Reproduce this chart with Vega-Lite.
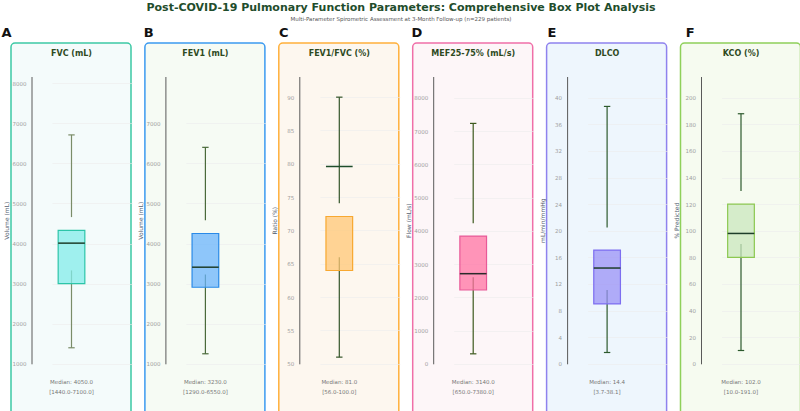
{
  "$schema": "https://vega.github.io/schema/vega-lite/v6.json",
  "padding": {"left": 0, "top": 1, "right": 0, "bottom": 0},
  "background": "white",
  "title": {
    "text": "Post-COVID-19 Pulmonary Function Parameters: Comprehensive Box Plot Analysis",
    "subtitle": "Multi-Parameter Spirometric Assessment at 3-Month Follow-up (n=229 patients)",
    "font": "DejaVu Sans", "fontSize": 11, "fontWeight": "bold", "color": "#1f4d2c",
    "subtitleFont": "DejaVu Sans", "subtitleFontSize": 5.5, "subtitleColor": "#555555",
    "subtitlePadding": 4.5, "offset": 3, "anchor": "middle"
  },
  "data": {"values": [
    {"panel": "A", "letter": "A", "title": "FVC (mL)", "q1": 3000, "q3": 4330, "med": 4010, "lowcap": 1400, "lowend": 3330, "upstart": 4660, "upcap": 6710, "medlabel": "Median: 4050.0", "rangelabel": "[1440.0-7100.0]"},
    {"panel": "B", "letter": "B", "title": "FEV1 (mL)", "q1": 2910, "q3": 4250, "med": 3410, "lowcap": 1250, "lowend": 3230, "upstart": 4580, "upcap": 6400, "medlabel": "Median: 3230.0", "rangelabel": "[1290.0-6550.0]"},
    {"panel": "C", "letter": "C", "title": "FEV1/FVC (%)", "q1": 64.0, "q3": 72.1, "med": 79.6, "lowcap": 51.0, "lowend": 66.0, "upstart": 74.1, "upcap": 90.0, "medlabel": "Median: 81.0", "rangelabel": "[56.0-100.0]"},
    {"panel": "D", "letter": "D", "title": "MEF25-75% (mL/s)", "q1": 2220, "q3": 3840, "med": 2710, "lowcap": 300, "lowend": 2600, "upstart": 4230, "upcap": 7230, "medlabel": "Median: 3140.0", "rangelabel": "[650.0-7380.0]"},
    {"panel": "E", "letter": "E", "title": "DLCO", "q1": 9.0, "q3": 17.1, "med": 14.4, "lowcap": 1.7, "lowend": 11.1, "upstart": 20.5, "upcap": 38.7, "medlabel": "Median: 14.4", "rangelabel": "[3.7-38.1]"},
    {"panel": "F", "letter": "F", "title": "KCO (%)", "q1": 80, "q3": 120, "med": 98, "lowcap": 10, "lowend": 90, "upstart": 130, "upcap": 188, "medlabel": "Median: 102.0", "rangelabel": "[10.0-191.0]"}
  ]},
  "spacing": 13.9,
  "bounds": "flush",
  "hconcat": [
    {
      "width": 120, "height": 378,
      "view": {"fill": "#f4fbfb", "stroke": "#3cc9a5", "strokeWidth": 1.5, "cornerRadius": 4},
      "transform": [{"filter": "datum.panel === 'A'"}],
      "resolve": {"scale": {"y": "independent"}},
      "layer": [
        {"layer": [
          {"mark": {"type": "rule", "color": "#7a8c68", "strokeWidth": 1.2},
           "encoding": {
             "x": {"datum": 0.5, "type": "quantitative", "scale": {"domain": [0, 1], "range": [20.5, 100.5], "nice": false, "zero": false}, "axis": null},
             "y": {"field": "lowcap", "type": "quantitative", "scale": {"domain": [1000, 8167], "range": [320.8, 33.5], "nice": false, "zero": false},
                   "axis": {"orient": "left", "values": [1000, 2000, 3000, 4000, 5000, 6000, 7000, 8000], "title": "Volume (mL)"}},
             "y2": {"field": "lowend"}}},
          {"mark": {"type": "rule", "color": "#7a8c68", "strokeWidth": 1.2},
           "encoding": {"x": {"datum": 0.5, "type": "quantitative"}, "y": {"field": "upstart", "type": "quantitative"}, "y2": {"field": "upcap"}}},
          {"mark": {"type": "rule", "color": "#7a8c68", "strokeWidth": 1.2},
           "encoding": {"x": {"datum": 0.46, "type": "quantitative"}, "x2": {"datum": 0.54}, "y": {"field": "lowcap", "type": "quantitative"}}},
          {"mark": {"type": "rule", "color": "#7a8c68", "strokeWidth": 1.2},
           "encoding": {"x": {"datum": 0.46, "type": "quantitative"}, "x2": {"datum": 0.54}, "y": {"field": "upcap", "type": "quantitative"}}},
          {"mark": {"type": "rect", "fill": "#83ecea", "fillOpacity": 0.75, "stroke": "#2cc5a8", "strokeWidth": 1.2},
           "encoding": {"x": {"datum": 0.3333, "type": "quantitative"}, "x2": {"datum": 0.6667}, "y": {"field": "q1", "type": "quantitative"}, "y2": {"field": "q3"}}},
          {"mark": {"type": "rule", "color": "#1e3d2a", "strokeWidth": 1.5},
           "encoding": {"x": {"datum": 0.3333, "type": "quantitative"}, "x2": {"datum": 0.6667}, "y": {"field": "med", "type": "quantitative"}}}
        ]},
        {"layer": [
          {"mark": {"type": "text", "font": "DejaVu Sans", "fontSize": 13, "fontWeight": "bold", "align": "left", "baseline": "alphabetic", "color": "#111111"},
           "encoding": {"x": {"datum": -0.375, "type": "quantitative"}, "y": {"datum": 1.1392, "type": "quantitative", "scale": {"domain": [0, 1], "range": [320.8, 33.5], "nice": false, "zero": false}, "axis": null}, "text": {"field": "letter"}}},
          {"mark": {"type": "text", "font": "DejaVu Sans", "fontSize": 8, "fontWeight": "bold", "align": "center", "baseline": "middle", "color": "#2e4a1e"},
           "encoding": {"x": {"datum": 0.5, "type": "quantitative"}, "y": {"datum": 1.0766, "type": "quantitative"}, "text": {"field": "title"}}},
          {"mark": {"type": "text", "font": "DejaVu Sans", "fontSize": 5.5, "align": "center", "baseline": "middle", "color": "#777777"},
           "encoding": {"x": {"datum": 0.5, "type": "quantitative"}, "y": {"datum": -0.064, "type": "quantitative"}, "text": {"field": "medlabel"}}},
          {"mark": {"type": "text", "font": "DejaVu Sans", "fontSize": 5.5, "align": "center", "baseline": "middle", "color": "#777777"},
           "encoding": {"x": {"datum": 0.5, "type": "quantitative"}, "y": {"datum": -0.0988, "type": "quantitative"}, "text": {"field": "rangelabel"}}}
        ]}
      ]
    },
    {
      "width": 120, "height": 378,
      "view": {"fill": "#f6fbf4", "stroke": "#3b9af0", "strokeWidth": 1.5, "cornerRadius": 4},
      "transform": [{"filter": "datum.panel === 'B'"}],
      "resolve": {"scale": {"y": "independent"}},
      "layer": [
        {"layer": [
          {"mark": {"type": "rule", "color": "#4a6a3a", "strokeWidth": 1.2},
           "encoding": {
             "x": {"datum": 0.5, "type": "quantitative", "scale": {"domain": [0, 1], "range": [20.5, 100.5], "nice": false, "zero": false}, "axis": null},
             "y": {"field": "lowcap", "type": "quantitative", "scale": {"domain": [1000, 8167], "range": [320.8, 33.5], "nice": false, "zero": false},
                   "axis": {"orient": "left", "values": [1000, 2000, 3000, 4000, 5000, 6000, 7000], "title": "Volume (mL)"}},
             "y2": {"field": "lowend"}}},
          {"mark": {"type": "rule", "color": "#4a6a3a", "strokeWidth": 1.2},
           "encoding": {"x": {"datum": 0.5, "type": "quantitative"}, "y": {"field": "upstart", "type": "quantitative"}, "y2": {"field": "upcap"}}},
          {"mark": {"type": "rule", "color": "#4a6a3a", "strokeWidth": 1.2},
           "encoding": {"x": {"datum": 0.46, "type": "quantitative"}, "x2": {"datum": 0.54}, "y": {"field": "lowcap", "type": "quantitative"}}},
          {"mark": {"type": "rule", "color": "#4a6a3a", "strokeWidth": 1.2},
           "encoding": {"x": {"datum": 0.46, "type": "quantitative"}, "x2": {"datum": 0.54}, "y": {"field": "upcap", "type": "quantitative"}}},
          {"mark": {"type": "rect", "fill": "#6bb4fc", "fillOpacity": 0.75, "stroke": "#2a8ae8", "strokeWidth": 1.2},
           "encoding": {"x": {"datum": 0.3333, "type": "quantitative"}, "x2": {"datum": 0.6667}, "y": {"field": "q1", "type": "quantitative"}, "y2": {"field": "q3"}}},
          {"mark": {"type": "rule", "color": "#1e3d2a", "strokeWidth": 1.5},
           "encoding": {"x": {"datum": 0.3333, "type": "quantitative"}, "x2": {"datum": 0.6667}, "y": {"field": "med", "type": "quantitative"}}}
        ]},
        {"layer": [
          {"mark": {"type": "text", "font": "DejaVu Sans", "fontSize": 13, "fontWeight": "bold", "align": "left", "baseline": "alphabetic", "color": "#111111"},
           "encoding": {"x": {"datum": -0.27, "type": "quantitative"}, "y": {"datum": 1.1392, "type": "quantitative", "scale": {"domain": [0, 1], "range": [320.8, 33.5], "nice": false, "zero": false}, "axis": null}, "text": {"field": "letter"}}},
          {"mark": {"type": "text", "font": "DejaVu Sans", "fontSize": 8, "fontWeight": "bold", "align": "center", "baseline": "middle", "color": "#2e4a1e"},
           "encoding": {"x": {"datum": 0.5, "type": "quantitative"}, "y": {"datum": 1.0766, "type": "quantitative"}, "text": {"field": "title"}}},
          {"mark": {"type": "text", "font": "DejaVu Sans", "fontSize": 5.5, "align": "center", "baseline": "middle", "color": "#777777"},
           "encoding": {"x": {"datum": 0.5, "type": "quantitative"}, "y": {"datum": -0.064, "type": "quantitative"}, "text": {"field": "medlabel"}}},
          {"mark": {"type": "text", "font": "DejaVu Sans", "fontSize": 5.5, "align": "center", "baseline": "middle", "color": "#777777"},
           "encoding": {"x": {"datum": 0.5, "type": "quantitative"}, "y": {"datum": -0.0988, "type": "quantitative"}, "text": {"field": "rangelabel"}}}
        ]}
      ]
    },
    {
      "width": 120, "height": 378,
      "view": {"fill": "#fdf7ef", "stroke": "#ffb03b", "strokeWidth": 1.5, "cornerRadius": 4},
      "transform": [{"filter": "datum.panel === 'C'"}],
      "resolve": {"scale": {"y": "independent"}},
      "layer": [
        {"layer": [
          {"mark": {"type": "rule", "color": "#34552a", "strokeWidth": 1.2},
           "encoding": {
             "x": {"datum": 0.5, "type": "quantitative", "scale": {"domain": [0, 1], "range": [20.5, 100.5], "nice": false, "zero": false}, "axis": null},
             "y": {"field": "lowcap", "type": "quantitative", "scale": {"domain": [50, 93.1], "range": [320.8, 33.5], "nice": false, "zero": false},
                   "axis": {"orient": "left", "values": [50, 55, 60, 65, 70, 75, 80, 85, 90], "title": "Ratio (%)"}},
             "y2": {"field": "lowend"}}},
          {"mark": {"type": "rule", "color": "#34552a", "strokeWidth": 1.2},
           "encoding": {"x": {"datum": 0.5, "type": "quantitative"}, "y": {"field": "upstart", "type": "quantitative"}, "y2": {"field": "upcap"}}},
          {"mark": {"type": "rule", "color": "#34552a", "strokeWidth": 1.2},
           "encoding": {"x": {"datum": 0.46, "type": "quantitative"}, "x2": {"datum": 0.54}, "y": {"field": "lowcap", "type": "quantitative"}}},
          {"mark": {"type": "rule", "color": "#34552a", "strokeWidth": 1.2},
           "encoding": {"x": {"datum": 0.46, "type": "quantitative"}, "x2": {"datum": 0.54}, "y": {"field": "upcap", "type": "quantitative"}}},
          {"mark": {"type": "rect", "fill": "#ffc776", "fillOpacity": 0.75, "stroke": "#f8a830", "strokeWidth": 1.2},
           "encoding": {"x": {"datum": 0.3333, "type": "quantitative"}, "x2": {"datum": 0.6667}, "y": {"field": "q1", "type": "quantitative"}, "y2": {"field": "q3"}}},
          {"mark": {"type": "rule", "color": "#1e4d2b", "strokeWidth": 1.5},
           "encoding": {"x": {"datum": 0.3333, "type": "quantitative"}, "x2": {"datum": 0.6667}, "y": {"field": "med", "type": "quantitative"}}}
        ]},
        {"layer": [
          {"mark": {"type": "text", "font": "DejaVu Sans", "fontSize": 13, "fontWeight": "bold", "align": "left", "baseline": "alphabetic", "color": "#111111"},
           "encoding": {"x": {"datum": -0.254, "type": "quantitative"}, "y": {"datum": 1.1392, "type": "quantitative", "scale": {"domain": [0, 1], "range": [320.8, 33.5], "nice": false, "zero": false}, "axis": null}, "text": {"field": "letter"}}},
          {"mark": {"type": "text", "font": "DejaVu Sans", "fontSize": 8, "fontWeight": "bold", "align": "center", "baseline": "middle", "color": "#2e4a1e"},
           "encoding": {"x": {"datum": 0.5, "type": "quantitative"}, "y": {"datum": 1.0766, "type": "quantitative"}, "text": {"field": "title"}}},
          {"mark": {"type": "text", "font": "DejaVu Sans", "fontSize": 5.5, "align": "center", "baseline": "middle", "color": "#777777"},
           "encoding": {"x": {"datum": 0.5, "type": "quantitative"}, "y": {"datum": -0.064, "type": "quantitative"}, "text": {"field": "medlabel"}}},
          {"mark": {"type": "text", "font": "DejaVu Sans", "fontSize": 5.5, "align": "center", "baseline": "middle", "color": "#777777"},
           "encoding": {"x": {"datum": 0.5, "type": "quantitative"}, "y": {"datum": -0.0988, "type": "quantitative"}, "text": {"field": "rangelabel"}}}
        ]}
      ]
    },
    {
      "width": 120, "height": 378,
      "view": {"fill": "#fdf6f8", "stroke": "#f06fa8", "strokeWidth": 1.5, "cornerRadius": 4},
      "transform": [{"filter": "datum.panel === 'D'"}],
      "resolve": {"scale": {"y": "independent"}},
      "layer": [
        {"layer": [
          {"mark": {"type": "rule", "color": "#3d5a1e", "strokeWidth": 1.2},
           "encoding": {
             "x": {"datum": 0.5, "type": "quantitative", "scale": {"domain": [0, 1], "range": [20.5, 100.5], "nice": false, "zero": false}, "axis": null},
             "y": {"field": "lowcap", "type": "quantitative", "scale": {"domain": [0, 8640], "range": [320.8, 33.5], "nice": false, "zero": false},
                   "axis": {"orient": "left", "values": [0, 1000, 2000, 3000, 4000, 5000, 6000, 7000, 8000], "title": "Flow (mL/s)"}},
             "y2": {"field": "lowend"}}},
          {"mark": {"type": "rule", "color": "#3d5a1e", "strokeWidth": 1.2},
           "encoding": {"x": {"datum": 0.5, "type": "quantitative"}, "y": {"field": "upstart", "type": "quantitative"}, "y2": {"field": "upcap"}}},
          {"mark": {"type": "rule", "color": "#3d5a1e", "strokeWidth": 1.2},
           "encoding": {"x": {"datum": 0.46, "type": "quantitative"}, "x2": {"datum": 0.54}, "y": {"field": "lowcap", "type": "quantitative"}}},
          {"mark": {"type": "rule", "color": "#3d5a1e", "strokeWidth": 1.2},
           "encoding": {"x": {"datum": 0.46, "type": "quantitative"}, "x2": {"datum": 0.54}, "y": {"field": "upcap", "type": "quantitative"}}},
          {"mark": {"type": "rect", "fill": "#ff73a3", "fillOpacity": 0.75, "stroke": "#e85a98", "strokeWidth": 1.2},
           "encoding": {"x": {"datum": 0.3333, "type": "quantitative"}, "x2": {"datum": 0.6667}, "y": {"field": "q1", "type": "quantitative"}, "y2": {"field": "q3"}}},
          {"mark": {"type": "rule", "color": "#2a2a2a", "strokeWidth": 1.5},
           "encoding": {"x": {"datum": 0.3333, "type": "quantitative"}, "x2": {"datum": 0.6667}, "y": {"field": "med", "type": "quantitative"}}}
        ]},
        {"layer": [
          {"mark": {"type": "text", "font": "DejaVu Sans", "fontSize": 13, "fontWeight": "bold", "align": "left", "baseline": "alphabetic", "color": "#111111"},
           "encoding": {"x": {"datum": -0.271, "type": "quantitative"}, "y": {"datum": 1.1392, "type": "quantitative", "scale": {"domain": [0, 1], "range": [320.8, 33.5], "nice": false, "zero": false}, "axis": null}, "text": {"field": "letter"}}},
          {"mark": {"type": "text", "font": "DejaVu Sans", "fontSize": 8, "fontWeight": "bold", "align": "center", "baseline": "middle", "color": "#2e4a1e"},
           "encoding": {"x": {"datum": 0.5, "type": "quantitative"}, "y": {"datum": 1.0766, "type": "quantitative"}, "text": {"field": "title"}}},
          {"mark": {"type": "text", "font": "DejaVu Sans", "fontSize": 5.5, "align": "center", "baseline": "middle", "color": "#777777"},
           "encoding": {"x": {"datum": 0.5, "type": "quantitative"}, "y": {"datum": -0.064, "type": "quantitative"}, "text": {"field": "medlabel"}}},
          {"mark": {"type": "text", "font": "DejaVu Sans", "fontSize": 5.5, "align": "center", "baseline": "middle", "color": "#777777"},
           "encoding": {"x": {"datum": 0.5, "type": "quantitative"}, "y": {"datum": -0.0988, "type": "quantitative"}, "text": {"field": "rangelabel"}}}
        ]}
      ]
    },
    {
      "width": 120, "height": 378,
      "view": {"fill": "#eef6fd", "stroke": "#8f82ee", "strokeWidth": 1.5, "cornerRadius": 4},
      "transform": [{"filter": "datum.panel === 'E'"}],
      "resolve": {"scale": {"y": "independent"}},
      "layer": [
        {"layer": [
          {"mark": {"type": "rule", "color": "#2d5a2d", "strokeWidth": 1.2},
           "encoding": {
             "x": {"datum": 0.5, "type": "quantitative", "scale": {"domain": [0, 1], "range": [20.5, 100.5], "nice": false, "zero": false}, "axis": null},
             "y": {"field": "lowcap", "type": "quantitative", "scale": {"domain": [0, 43.2], "range": [320.8, 33.5], "nice": false, "zero": false},
                   "axis": {"orient": "left", "values": [0, 4, 8, 12, 16, 20, 24, 28, 32, 36, 40], "title": "mL/min/mmHg"}},
             "y2": {"field": "lowend"}}},
          {"mark": {"type": "rule", "color": "#2d5a2d", "strokeWidth": 1.2},
           "encoding": {"x": {"datum": 0.5, "type": "quantitative"}, "y": {"field": "upstart", "type": "quantitative"}, "y2": {"field": "upcap"}}},
          {"mark": {"type": "rule", "color": "#2d5a2d", "strokeWidth": 1.2},
           "encoding": {"x": {"datum": 0.46, "type": "quantitative"}, "x2": {"datum": 0.54}, "y": {"field": "lowcap", "type": "quantitative"}}},
          {"mark": {"type": "rule", "color": "#2d5a2d", "strokeWidth": 1.2},
           "encoding": {"x": {"datum": 0.46, "type": "quantitative"}, "x2": {"datum": 0.54}, "y": {"field": "upcap", "type": "quantitative"}}},
          {"mark": {"type": "rect", "fill": "#9992f6", "fillOpacity": 0.75, "stroke": "#7d6ef0", "strokeWidth": 1.2},
           "encoding": {"x": {"datum": 0.3333, "type": "quantitative"}, "x2": {"datum": 0.6667}, "y": {"field": "q1", "type": "quantitative"}, "y2": {"field": "q3"}}},
          {"mark": {"type": "rule", "color": "#1e3d2a", "strokeWidth": 1.5},
           "encoding": {"x": {"datum": 0.3333, "type": "quantitative"}, "x2": {"datum": 0.6667}, "y": {"field": "med", "type": "quantitative"}}}
        ]},
        {"layer": [
          {"mark": {"type": "text", "font": "DejaVu Sans", "fontSize": 13, "fontWeight": "bold", "align": "left", "baseline": "alphabetic", "color": "#111111"},
           "encoding": {"x": {"datum": -0.246, "type": "quantitative"}, "y": {"datum": 1.1392, "type": "quantitative", "scale": {"domain": [0, 1], "range": [320.8, 33.5], "nice": false, "zero": false}, "axis": null}, "text": {"field": "letter"}}},
          {"mark": {"type": "text", "font": "DejaVu Sans", "fontSize": 8, "fontWeight": "bold", "align": "center", "baseline": "middle", "color": "#2e4a1e"},
           "encoding": {"x": {"datum": 0.5, "type": "quantitative"}, "y": {"datum": 1.0766, "type": "quantitative"}, "text": {"field": "title"}}},
          {"mark": {"type": "text", "font": "DejaVu Sans", "fontSize": 5.5, "align": "center", "baseline": "middle", "color": "#777777"},
           "encoding": {"x": {"datum": 0.5, "type": "quantitative"}, "y": {"datum": -0.064, "type": "quantitative"}, "text": {"field": "medlabel"}}},
          {"mark": {"type": "text", "font": "DejaVu Sans", "fontSize": 5.5, "align": "center", "baseline": "middle", "color": "#777777"},
           "encoding": {"x": {"datum": 0.5, "type": "quantitative"}, "y": {"datum": -0.0988, "type": "quantitative"}, "text": {"field": "rangelabel"}}}
        ]}
      ]
    },
    {
      "width": 120, "height": 378,
      "view": {"fill": "#f6fbf0", "stroke": "#8fd05a", "strokeWidth": 1.5, "cornerRadius": 4},
      "transform": [{"filter": "datum.panel === 'F'"}],
      "resolve": {"scale": {"y": "independent"}},
      "layer": [
        {"layer": [
          {"mark": {"type": "rule", "color": "#2d5a2d", "strokeWidth": 1.2},
           "encoding": {
             "x": {"datum": 0.5, "type": "quantitative", "scale": {"domain": [0, 1], "range": [20.5, 100.5], "nice": false, "zero": false}, "axis": null},
             "y": {"field": "lowcap", "type": "quantitative", "scale": {"domain": [0, 216], "range": [320.8, 33.5], "nice": false, "zero": false},
                   "axis": {"orient": "left", "values": [0, 20, 40, 60, 80, 100, 120, 140, 160, 180, 200], "title": "% Predicted"}},
             "y2": {"field": "lowend"}}},
          {"mark": {"type": "rule", "color": "#2d5a2d", "strokeWidth": 1.2},
           "encoding": {"x": {"datum": 0.5, "type": "quantitative"}, "y": {"field": "upstart", "type": "quantitative"}, "y2": {"field": "upcap"}}},
          {"mark": {"type": "rule", "color": "#2d5a2d", "strokeWidth": 1.2},
           "encoding": {"x": {"datum": 0.46, "type": "quantitative"}, "x2": {"datum": 0.54}, "y": {"field": "lowcap", "type": "quantitative"}}},
          {"mark": {"type": "rule", "color": "#2d5a2d", "strokeWidth": 1.2},
           "encoding": {"x": {"datum": 0.46, "type": "quantitative"}, "x2": {"datum": 0.54}, "y": {"field": "upcap", "type": "quantitative"}}},
          {"mark": {"type": "rect", "fill": "#c9e7bd", "fillOpacity": 0.75, "stroke": "#8cc850", "strokeWidth": 1.2},
           "encoding": {"x": {"datum": 0.3333, "type": "quantitative"}, "x2": {"datum": 0.6667}, "y": {"field": "q1", "type": "quantitative"}, "y2": {"field": "q3"}}},
          {"mark": {"type": "rule", "color": "#1e3d2a", "strokeWidth": 1.5},
           "encoding": {"x": {"datum": 0.3333, "type": "quantitative"}, "x2": {"datum": 0.6667}, "y": {"field": "med", "type": "quantitative"}}}
        ]},
        {"layer": [
          {"mark": {"type": "text", "font": "DejaVu Sans", "fontSize": 13, "fontWeight": "bold", "align": "left", "baseline": "alphabetic", "color": "#111111"},
           "encoding": {"x": {"datum": -0.191, "type": "quantitative"}, "y": {"datum": 1.1392, "type": "quantitative", "scale": {"domain": [0, 1], "range": [320.8, 33.5], "nice": false, "zero": false}, "axis": null}, "text": {"field": "letter"}}},
          {"mark": {"type": "text", "font": "DejaVu Sans", "fontSize": 8, "fontWeight": "bold", "align": "center", "baseline": "middle", "color": "#2e4a1e"},
           "encoding": {"x": {"datum": 0.5, "type": "quantitative"}, "y": {"datum": 1.0766, "type": "quantitative"}, "text": {"field": "title"}}},
          {"mark": {"type": "text", "font": "DejaVu Sans", "fontSize": 5.5, "align": "center", "baseline": "middle", "color": "#777777"},
           "encoding": {"x": {"datum": 0.5, "type": "quantitative"}, "y": {"datum": -0.064, "type": "quantitative"}, "text": {"field": "medlabel"}}},
          {"mark": {"type": "text", "font": "DejaVu Sans", "fontSize": 5.5, "align": "center", "baseline": "middle", "color": "#777777"},
           "encoding": {"x": {"datum": 0.5, "type": "quantitative"}, "y": {"datum": -0.0988, "type": "quantitative"}, "text": {"field": "rangelabel"}}}
        ]}
      ]
    }
  ],
  "config": {
    "axis": {
      "offset": -20.5,
      "domainColor": "#5a5a5a", "domainWidth": 1,
      "ticks": false, "tickSize": 0, "tickCount": 30,
      "format": "d", "labelOverlap": false,
      "labelFont": "DejaVu Sans", "labelFontSize": 5.5, "labelColor": "#a0a0a0", "labelPadding": 5.5,
      "grid": true, "gridColor": "#ececec", "gridWidth": 0.6,
      "titleFont": "DejaVu Sans", "titleFontSize": 6, "titleFontWeight": "normal", "titleColor": "#556070",
      "titleX": -25, "titleBaseline": "middle"
    },
    "text": {"font": "DejaVu Sans"}
  }
}
